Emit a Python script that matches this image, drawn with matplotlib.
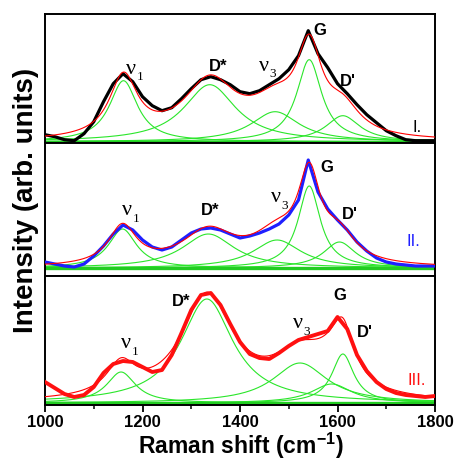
import numpy as np
import matplotlib
matplotlib.use("Agg")
import matplotlib.pyplot as plt
from matplotlib.ticker import MultipleLocator, NullLocator

plt.rcParams['font.family'] = ['Liberation Sans', 'DejaVu Sans']
plt.rcParams['font.weight'] = 'bold'
plt.rcParams['mathtext.fontset'] = 'custom'
plt.rcParams['mathtext.rm'] = 'Liberation Sans:bold'
plt.rcParams['mathtext.bf'] = 'Liberation Sans:bold'
plt.rcParams['mathtext.it'] = 'Liberation Sans:bold'

# ---------------- data ----------------
shift = [1000, 1020, 1040, 1060, 1080, 1100, 1120, 1140, 1160, 1180,
         1200, 1220, 1240, 1260, 1280, 1300, 1320, 1340, 1360, 1380,
         1400, 1420, 1440, 1460, 1480, 1500, 1520, 1540, 1560, 1580,
         1600, 1620, 1640, 1660, 1680, 1700, 1720, 1740, 1760, 1780, 1800]

meas_I = [7, 5, 2, 1, 8, 20, 40, 58, 68, 60,
          45, 36, 31, 34, 43, 53, 62, 65, 62, 57,
          50, 48, 51, 57, 63, 72, 86, 111, 88, 74,
          58, 48, 37, 27, 19, 11, 6, 2, 1, 1, 1]
meas_II = [6, 4, 2, 1, 4, 12, 22, 34, 43, 38,
           28, 21, 18, 21, 28, 35, 39, 40, 38, 34,
           30, 32, 35, 39, 44, 53, 68, 108, 76, 59,
           48, 38, 26, 17, 10, 6, 4, 3, 2, 2, 2]
meas_III = [21, 15, 9, 6, 8, 16, 30, 39, 42, 41,
            36, 31, 33, 48, 70, 93, 108, 110, 98, 79,
            61, 49, 45, 44, 50, 57, 63, 66, 69, 72,
            86, 74, 48, 32, 21, 14, 10, 8, 7, 6, 7]

# fitted Lorentzian components: centre, height, FWHM
cen_I = [1161, 1338, 1472, 1542, 1611]
amp_I = [61, 57, 30, 82, 26]
fwhm_I = [70, 130, 120, 62, 85]

cen_II = [1159, 1335, 1476, 1542, 1604]
amp_II = [39, 34, 28, 82, 26]
fwhm_II = [70, 130, 120, 55, 80]

cen_III = [1156, 1332, 1523, 1588, 1611]
amp_III = [31, 104, 40, 19, 49]
fwhm_III = [72, 130, 136, 100, 55]

band_labels = [('ν', '1'), 'D*', ('ν', '3'), 'G', "D'"]
panel_names = ['I.', 'II.', 'III.']
xticks = [1000, 1200, 1400, 1600, 1800]

# ---------------- drawing ----------------
fig = plt.figure(figsize=(4.57, 4.60), dpi=100)
L, W = 45 / 457, 390 / 457
def fy(p):
    return 1 - p / 460
axI = fig.add_axes([L, fy(144), W, fy(15) - fy(144)])
axII = fig.add_axes([L, fy(277), W, fy(144) - fy(277)])
axIII = fig.add_axes([L, fy(406), W, fy(277) - fy(406)])

xs = np.arange(1000, 1801, 1.0)

def lor(x, c, a, w):
    return a / (1 + ((x - c) / (w / 2)) ** 2)

green = '#2ae62a'
panels = [
    (axI, meas_I, cen_I, amp_I, fwhm_I, 'black', (-1.3, 127.7), 'black'),
    (axII, meas_II, cen_II, amp_II, fwhm_II, '#1f1fff', (-8, 125), '#1f1fff'),
    (axIII, meas_III, cen_III, amp_III, fwhm_III, '#ff1010', (-2, 127), '#ff1010'),
]

for ax, meas, cen, amp, fw, col, ylim, ncol in panels:
    total = np.zeros_like(xs)
    for c, a, w in zip(cen, amp, fw):
        comp = lor(xs, c, a, w)
        total += comp
        ax.plot(xs, comp, color=green, lw=0.8, zorder=2)
    ax.axhline(0, color='#22cc22', lw=2.4, zorder=2)
    if ax is axIII:
        ax.plot(xs, total, color='red', lw=0.8, zorder=3)
        ax.plot(shift, meas, color=col, lw=2.8, zorder=4)
    else:
        ax.plot(shift, meas, color=col, lw=2.3, zorder=3)
        ax.plot(xs, total, color='red', lw=0.8, zorder=4)
    ax.set_xlim(1000, 1800)
    ax.set_ylim(*ylim)
    ax.yaxis.set_major_locator(NullLocator())
    for s in ax.spines.values():
        s.set_linewidth(1.4)

# ticks
axI.xaxis.set_major_locator(NullLocator())
axI.tick_params(bottom=False, labelbottom=False)
for ax in (axII, axIII):
    ax.set_xticks(xticks)
    ax.xaxis.set_minor_locator(MultipleLocator(100))
    ax.tick_params(axis='x', which='major', direction='out', length=5, width=1.3)
    ax.tick_params(axis='x', which='minor', direction='out', length=3, width=1.1)
axII.tick_params(labelbottom=False)
axIII.tick_params(axis='x', labelsize=12, pad=1.5)
for lab in axIII.get_xticklabels():
    lab.set_fontweight('bold')

# band labels
pos_I = [(1176, 73), (1355, 76), (1449, 76), (1564, 112), (1622, 61)]
pos_II = [(1169, 58), (1338, 58), (1474, 71), (1578, 101), (1626, 54)]
pos_III = [(1166, 60), (1279, 102), (1518, 80), (1605, 108), (1656, 71)]
for ax, poss in ((axI, pos_I), (axII, pos_II), (axIII, pos_III)):
    for lab, (x, y) in zip(band_labels, poss):
        if isinstance(lab, tuple):
            ax.text(x, y, lab[0], family='Liberation Serif', fontweight='normal',
                    fontsize=16, ha='center', va='center', color='black')
            ax.annotate(lab[1], (x, y), xytext=(6.5, -5.5), textcoords='offset points',
                        family='Liberation Serif', fontweight='normal', fontsize=9.5,
                        ha='center', va='center', color='black')
        else:
            ax.text(x, y, lab, fontsize=12, fontweight='bold',
                    ha='center', va='center', color='black')

name_pos = [(1763, 15), (1755, 27), (1763, 23)]
for (ax, meas, cen, amp, fw, col, ylim, ncol), name, (x, y) in zip(panels, panel_names, name_pos):
    ax.text(x, y, name, fontsize=12, fontweight='normal', ha='center',
            va='center', color=ncol)

fig.text(241 / 457, fy(454), r'Raman shift (cm$^{-1}$)', fontsize=16.5, fontweight='bold',
         ha='center', va='baseline')
fig.text(26 / 457, fy(200), 'Intensity (arb. units)', rotation=90, fontsize=20,
         fontweight='bold', ha='center', va='center')

fig.savefig('out.png', dpi=100)
